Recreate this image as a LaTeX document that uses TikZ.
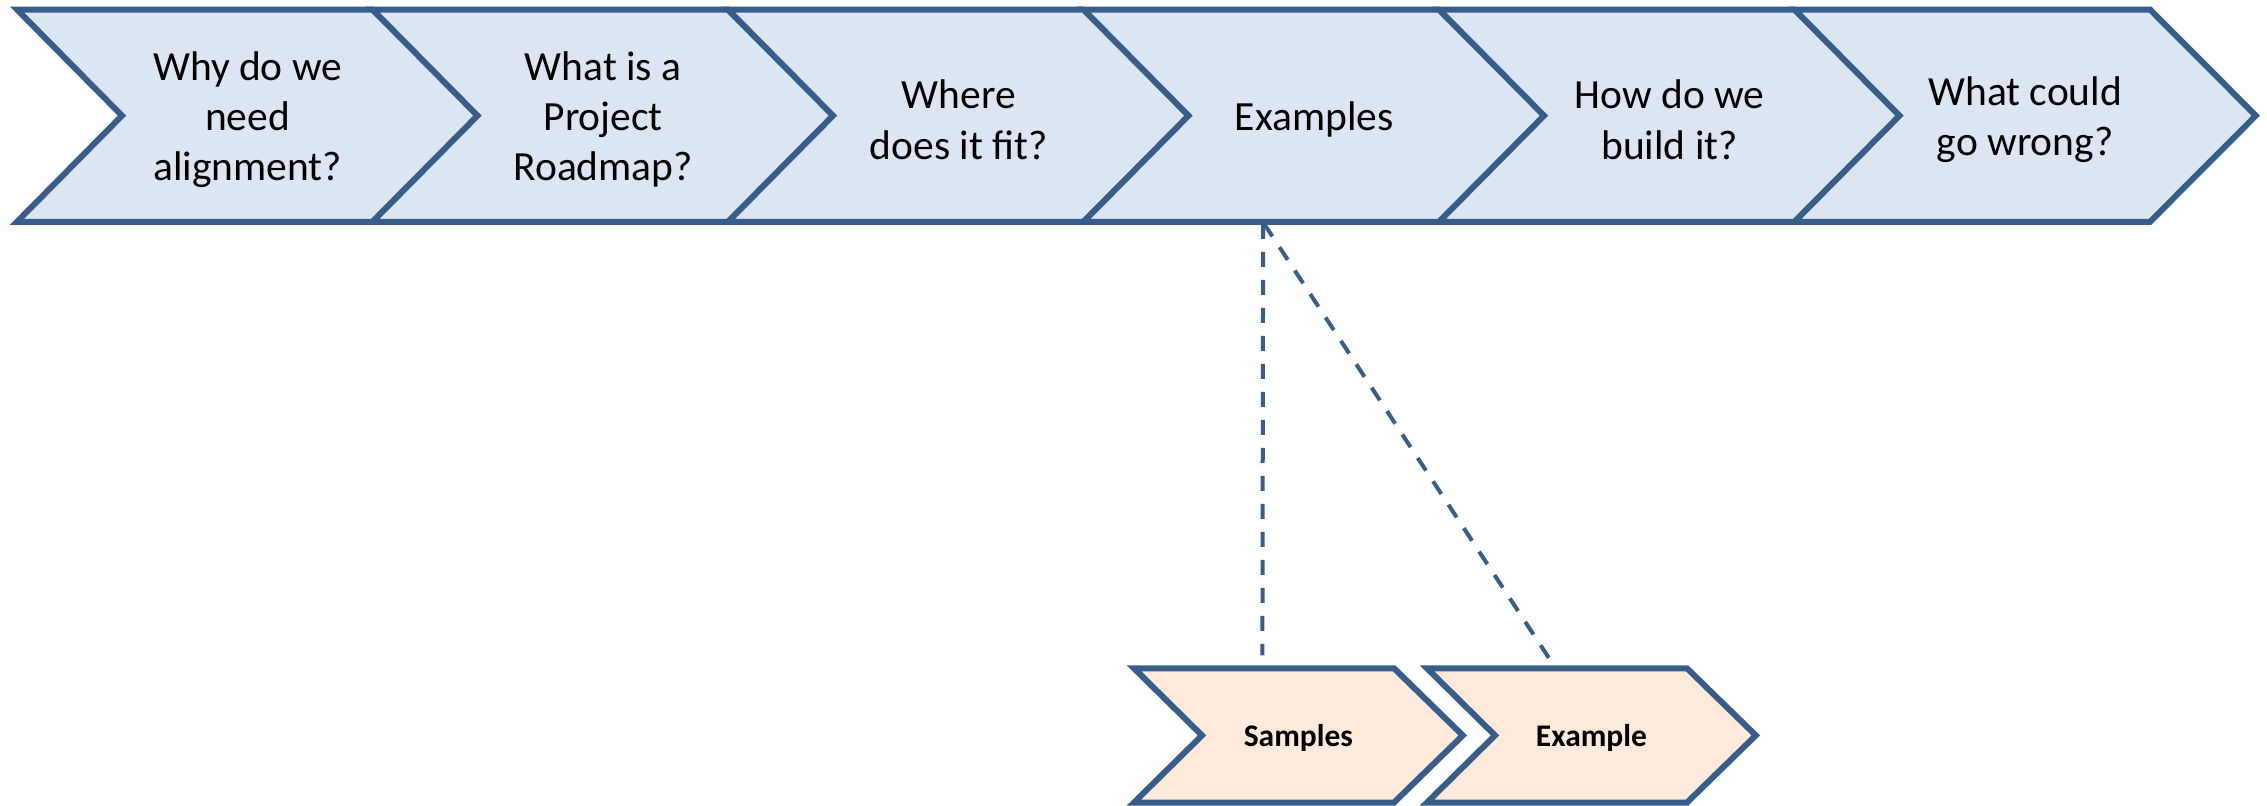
\documentclass[tikz,border=0pt]{standalone}
\usepackage{fontspec}
\setmainfont{Carlito}
\usetikzlibrary{calc,backgrounds}
\definecolor{edge}{HTML}{385D8A}
\definecolor{bluefill}{HTML}{DCE6F2}
\definecolor{orangefill}{HTML}{FDEADA}
% outline of a chevron around a text node:
% node, body length, point depth, style, vertical offset of the outline
\newcommand\chevoutline[5]{%
  \begin{scope}[on background layer]
    \filldraw[#4] ($(#1.north west)+(0,#5)$) -- ($(#1.north west)+(#2,#5)$)
      -- ($(#1.east)+(0,#5)$) -- ($(#1.south west)+(#2,#5)$)
      -- ($(#1.south west)+(0,#5)$) -- ($(#1.west)+(#3,#5)$) -- cycle;
  \end{scope}}
\begin{document}
\begin{tikzpicture}[x=0.5pt,y=-0.5pt,
  topstep/.style={anchor=north west, minimum width=230.25pt, minimum height=105.75pt,
    inner sep=0pt, align=center, font=\fontsize{20.75}{25.1}\selectfont},
  substep/.style={anchor=north west, minimum width=164pt, minimum height=66.7pt,
    inner sep=0pt, align=center, font=\fontsize{15.75}{18}\selectfont\bfseries},
  bluechev/.style={draw=edge, fill=bluefill, line width=3pt},
  orangechev/.style={draw=edge, fill=orangefill, line width=3pt},
  link/.style={draw=edge, line width=2pt, dash pattern=on 7.5pt off 6.5pt}]

\useasboundingbox (0,0) rectangle (2267,805);

% main process row (text sits 4px below the outline's centre)
\node[topstep] (c1) at (17,13.5)     {Why do we\\need\\alignment?};
\node[topstep] (c2) at (372.5,13.5)  {What is a\\Project\\Roadmap?};
\node[topstep] (c3) at (728,13.5)    {Where\\does it fit?};
\node[topstep] (c4) at (1083.5,13.5) {Examples};
\node[topstep] (c5) at (1439,13.5)   {How do we\\build it?};
\node[topstep] (c6) at (1794.5,13.5) {What could\\go wrong?};
\foreach \n in {c1,c2,c3,c4,c5,c6}{\chevoutline{\n}{355.5}{105}{bluechev}{-4}}

% detail row
\node[substep] (s1) at (1134,671.3) {Samples};
\node[substep] (s2) at (1427,671.3) {Example};
\chevoutline{s1}{260}{68}{orangechev}{-3}
\chevoutline{s2}{260}{68}{orangechev}{-3}

% links from the Examples step
\draw[link] ($(c4.south)+(-51,-2)$) -- ($(s1.north)+(-36,-16)$);
\draw[link] ($(c4.south)+(-50,-2)$) -- ($(s2.north)+(-37,-5)$);
\end{tikzpicture}
\end{document}
